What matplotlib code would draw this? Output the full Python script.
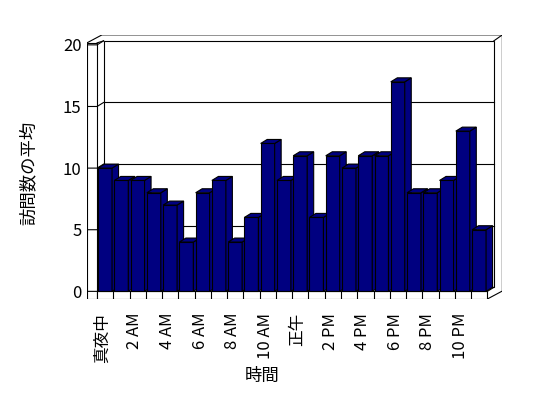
import matplotlib
matplotlib.use("Agg")
import matplotlib.pyplot as plt
from matplotlib.patches import Polygon, Rectangle

plt.rcParams['font.family'] = ['Noto Sans CJK JP', 'DejaVu Sans']

# 時間ごとの平均訪問数
hours = list(range(24))
visits = [10, 9, 9, 8, 7, 4, 8, 9, 4, 6, 12, 9, 11, 6, 11, 10, 11, 11, 17, 8, 8, 9, 13, 5]
tick_labels = ['真夜中', '2 AM', '4 AM', '6 AM', '8 AM', '10 AM',
               '正午', '2 PM', '4 PM', '6 PM', '8 PM', '10 PM']
y_ticks = [0, 5, 10, 15, 20]

NAVY = '#000080'
W, H = 548, 398

fig = plt.figure(figsize=(W / 100, H / 100), dpi=100)
ax = fig.add_axes([87 / W, 99 / H, 415 / W, 264 / H])
n = len(visits)
xmin, xmax = -0.62, n + 0.9
ymin, ymax = -0.62, 20.8
ax.set_xlim(xmin, xmax)
ax.set_ylim(ymin, ymax)
for s in ax.spines.values():
    s.set_visible(False)

# pixels -> data units
ux = (xmax - xmin) / 415
uy = (ymax - ymin) / 264
DX, DY = 6.5 * ux, 4 * uy      # depth of the bars / back wall
OX, OY = 15 * ux, 8 * uy       # outer frame
ytop = y_ticks[-1]
slab_top = ytop + 2 * uy

lw = 0.8
kw = dict(facecolor='white', edgecolor='black', lw=lw)

# outer silhouette of the walls
ax.add_patch(Polygon([(xmin, slab_top), (xmin + OX, slab_top + OY),
                      (n + OX, slab_top + OY), (n + OX, ymin + OY),
                      (n, ymin), (xmin, ymin)], closed=True, zorder=0.5, **kw))
# back wall
ax.add_patch(Rectangle((DX, DY), n, ytop, zorder=0.6, **kw))
ax.plot([n + DX, n + OX], [ytop + DY, slab_top + OY], color='black', lw=lw, zorder=0.7)
ax.plot([0, DX], [slab_top, ytop + DY], color='black', lw=lw, zorder=0.7)
# gridlines on back wall
for v in y_ticks[1:-1]:
    ax.plot([DX, n + DX], [v + DY, v + DY], color='black', lw=lw, zorder=0.7)

# left wall front face with ticks
ax.add_patch(Rectangle((xmin, ymin), -xmin, slab_top - ymin, zorder=1, **kw))
for v in y_ticks:
    ax.plot([xmin, 0, DX], [v, v, v + DY], color='black', lw=lw, zorder=1.1)

# floor front face with category ticks
ax.add_patch(Rectangle((0, ymin), n, -ymin, zorder=1, **kw))
ax.plot([n, n + DX], [0, DY], color='black', lw=lw, zorder=1.1)
for i in range(1, n):
    ax.plot([i, i], [ymin, 0], color='black', lw=lw, zorder=1.1)

# 3D bars
bw = 0.86
bars = ax.bar([h + 0.06 for h in hours], visits, width=bw, align='edge',
              color=NAVY, edgecolor='black', lw=lw)
for i, (b, v) in enumerate(zip(bars, visits)):
    z = 3 + i
    b.set_zorder(z)
    left = hours[i] + 0.06
    right = left + bw
    side = [(right, 0), (right + DX, DY), (right + DX, v + DY), (right, v)]
    top = [(left, v), (right, v), (right + DX, v + DY), (left + DX, v + DY)]
    ax.add_patch(Polygon(side, closed=True, facecolor=NAVY, edgecolor='black', lw=lw, zorder=z + 0.2))
    ax.add_patch(Polygon(top, closed=True, facecolor=NAVY, edgecolor='black', lw=lw, zorder=z + 0.3))

ax.set_yticks(y_ticks)
ax.set_yticklabels([str(v) for v in y_ticks], fontsize=12)
ax.set_xticks([h + 0.33 for h in hours[::2]])
ax.set_xticklabels(tick_labels, rotation=90, fontsize=12, va='top')
ax.tick_params(axis='y', length=0, pad=4)
ax.tick_params(axis='x', length=0, pad=10)

ax.set_ylabel('訪問数の平均', fontsize=12.5, va='center')
ax.yaxis.set_label_coords(-0.14, 0.479)
ax.set_xlabel('時間', fontsize=12.5, va='center')
ax.xaxis.set_label_coords(0.4217, -0.2917)

fig.savefig('out.png', dpi=100)
